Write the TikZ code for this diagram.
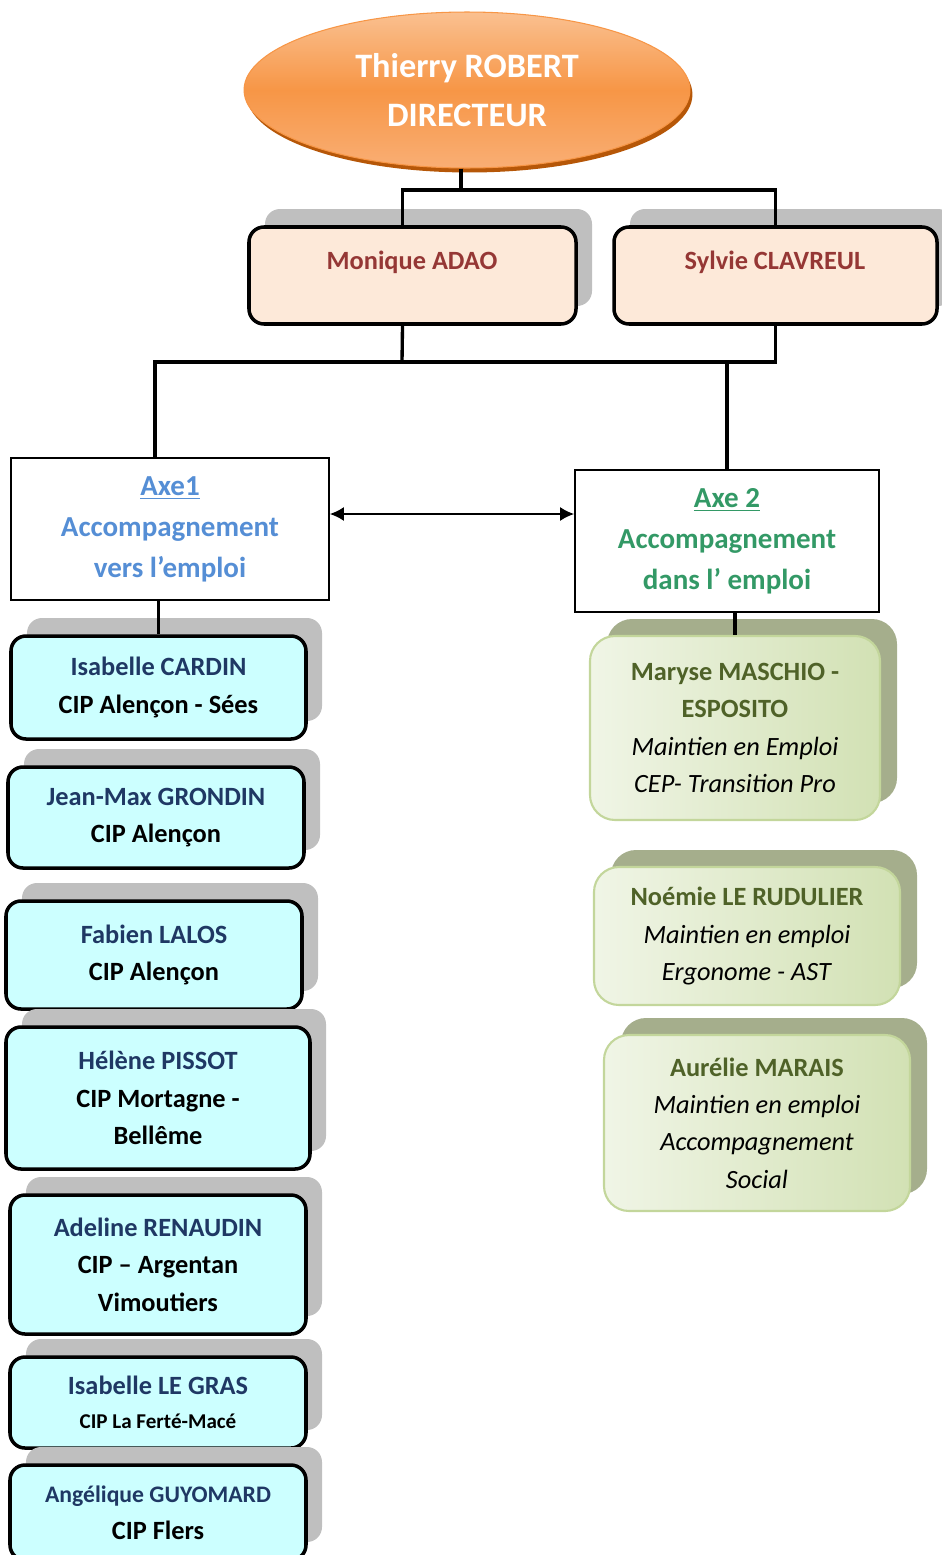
\documentclass[tikz,border=0pt]{standalone}
\usepackage{fontspec}
\setmainfont{Carlito}
\usetikzlibrary{shapes.geometric,shadows,arrows.meta}

\definecolor{dirorange}{HTML}{F79646}
\definecolor{dirlight}{HTML}{FAC090}
\definecolor{dirbottom}{HTML}{F9AE74}
\definecolor{dirdark}{HTML}{B65708}
\definecolor{chefpeach}{HTML}{FDE9D9}
\definecolor{chefred}{HTML}{953735}
\definecolor{shadowgray}{HTML}{BFBFBF}
\definecolor{axeblue}{HTML}{558ED5}
\definecolor{axegreen}{HTML}{339966}
\definecolor{cipcyan}{HTML}{CCFFFF}
\definecolor{cipblue}{HTML}{1F3864}
\definecolor{meline}{HTML}{C3D69B}
\definecolor{melight}{HTML}{F0F5E6}
\definecolor{memid}{HTML}{D2E1B4}
\definecolor{meshadow}{HTML}{A5AE8C}
\definecolor{megreen}{HTML}{4F6228}

\tikzset{
  link/.style={line width=1.9pt},
  biarrow/.style={line width=1pt,{Latex[length=8pt,width=8pt]}-{Latex[length=8pt,width=8pt]}},
  director/.style={ellipse,draw=dirorange,line width=.6pt,
    top color=dirlight,bottom color=dirbottom,middle color=dirorange,
    minimum width=8.92cm,minimum height=3.12cm,
    general shadow={fill=dirdark,shadow xshift=.05cm,shadow yshift=-.09cm},
    align=center,text=white,font=\bfseries\fontsize{19.5}{27.9}\selectfont},
  chefbox/.style 2 args={rounded corners=.3cm,draw,line width=2pt,fill=chefpeach,
    minimum width=#1*0.02cm,minimum height=#2*0.02cm,
    general shadow={fill=shadowgray,shadow xshift=.32cm,shadow yshift=.36cm}},
  cheftext/.style={text=chefred,font=\bfseries\fontsize{15}{21.3}\selectfont},
  axebox/.style 2 args={draw,line width=1pt,fill=white,align=center,
    minimum width=#1*0.02cm,minimum height=#2*0.02cm,
    font=\bfseries\fontsize{16.5}{23.3}\selectfont},
  cipbox/.style 2 args={rounded corners=.3cm,draw,line width=2pt,fill=cipcyan,
    minimum width=#1*0.02cm,minimum height=#2*0.02cm,align=center,
    general shadow={fill=shadowgray,shadow xshift=.32cm,shadow yshift=.36cm},
    font=\bfseries\fontsize{15}{21.3}\selectfont},
  mebox/.style 2 args={rounded corners=.5cm,draw=meline,line width=1.2pt,
    left color=melight,right color=memid,
    minimum width=#1*0.02cm,minimum height=#2*0.02cm,align=center,
    general shadow={fill=meshadow,shadow xshift=.34cm,shadow yshift=.34cm},
    font=\fontsize{15}{21.3}\selectfont},
}

\begin{document}
\begin{tikzpicture}[x=0.02cm,y=-0.02cm]
  \useasboundingbox (0,0) rectangle (942,1555);
  % direction
  \node[director] (dir) at (467,90) {Thierry ROBERT\\DIRECTEUR};
  \node[chefbox={327}{97}] (monique) at (412.5,275.5) {};
  \node[cheftext] (moniquetxt) at (412,262) {Monique ADAO};
  \node[chefbox={323}{97}] (sylvie) at (775.5,275.5) {};
  \node[cheftext] (sylvietxt) at (775,262) {Sylvie CLAVREUL};
  % axes
  \node[axebox={318}{142}] (axe1) at (170,529)
    {\textcolor{axeblue}{\underline{Axe1}}\\\textcolor{axeblue}{Accompagnement}\\\textcolor{axeblue}{vers l’emploi}};
  \node[axebox={304}{142}] (axe2) at (727,541)
    {\textcolor{axegreen}{\underline{Axe 2}}\\\textcolor{axegreen}{Accompagnement}\\\textcolor{axegreen}{dans l’ emploi}};
  % axe 1
  \node[cipbox={295}{103}] (cardin) at (158.5,687.5)
    {\textcolor{cipblue}{Isabelle CARDIN}\\CIP Alençon - Sées};
  \node[cipbox={296}{101}] (grondin) at (156,817.5)
    {\textcolor{cipblue}{Jean-Max GRONDIN}\\CIP Alençon};
  \node[cipbox={296}{108}] (lalos) at (154,955)
    {\textcolor{cipblue}{Fabien LALOS}\\CIP Alençon};
  \node[cipbox={304}{142}] (pissot) at (158,1098)
    {\textcolor{cipblue}{Hélène PISSOT}\\CIP Mortagne -\\Bellême};
  \node[cipbox={296}{139}] (renaudin) at (158,1264.5)
    {\textcolor{cipblue}{Adeline RENAUDIN}\\CIP – Argentan\\Vimoutiers};
  \node[cipbox={296}{91}] (legras) at (158,1402.5)
    {\textcolor{cipblue}{Isabelle LE GRAS}\\[-2pt]{\fontsize{12}{14}\selectfont CIP La Ferté-Macé}};
  \node[cipbox={296}{95}] (guyomard) at (158,1512.5)
    {\textcolor{cipblue}{\fontsize{13.5}{20}\selectfont Angélique GUYOMARD}\\CIP Flers};
  % axe 2
  \node[mebox={290}{184}] (maryse) at (735,728)
    {\textbf{\textcolor{megreen}{Maryse MASCHIO -}}\\\textbf{\textcolor{megreen}{ESPOSITO}}\\\textit{Maintien en Emploi}\\\textit{CEP- Transition Pro}};
  \node[mebox={306}{138}] (rudulier) at (747,936)
    {\textbf{\textcolor{megreen}{Noémie LE RUDULIER}}\\\textit{Maintien en emploi}\\\textit{Ergonome - AST}};
  \node[mebox={306}{176}] (marais) at (757,1123)
    {\textbf{\textcolor{megreen}{Aurélie MARAIS}}\\\textit{Maintien en emploi}\\\textit{Accompagnement}\\\textit{Social}};
  % liens
  \coordinate (bustop) at (461,190);
  \coordinate (busmid) at (402,362);
  \draw[link] ([xshift=-.12cm]dir.south) -- ([xshift=-.12cm]dir.south |- bustop);
  \draw[link] ([xshift=-.2cm]monique.north) |- (bustop) -| (sylvie.north);
  \draw[link] ([xshift=-.3cm]axe1.north) |- (busmid) -| (sylvie.south);
  \draw[link] ([xshift=-.2cm]monique.south) -- (busmid);
  \draw[link] (axe2.north) -- (axe2.north |- busmid);
  \draw[link] (cardin.north) -- (cardin.north |- axe1.south);
  \draw[link] (maryse.north) -- (maryse.north |- axe2.south);
  \draw[biarrow] ([yshift=.3cm]axe1.east) -- ([yshift=.3cm]axe1.east -| axe2.west);
\end{tikzpicture}
\end{document}
